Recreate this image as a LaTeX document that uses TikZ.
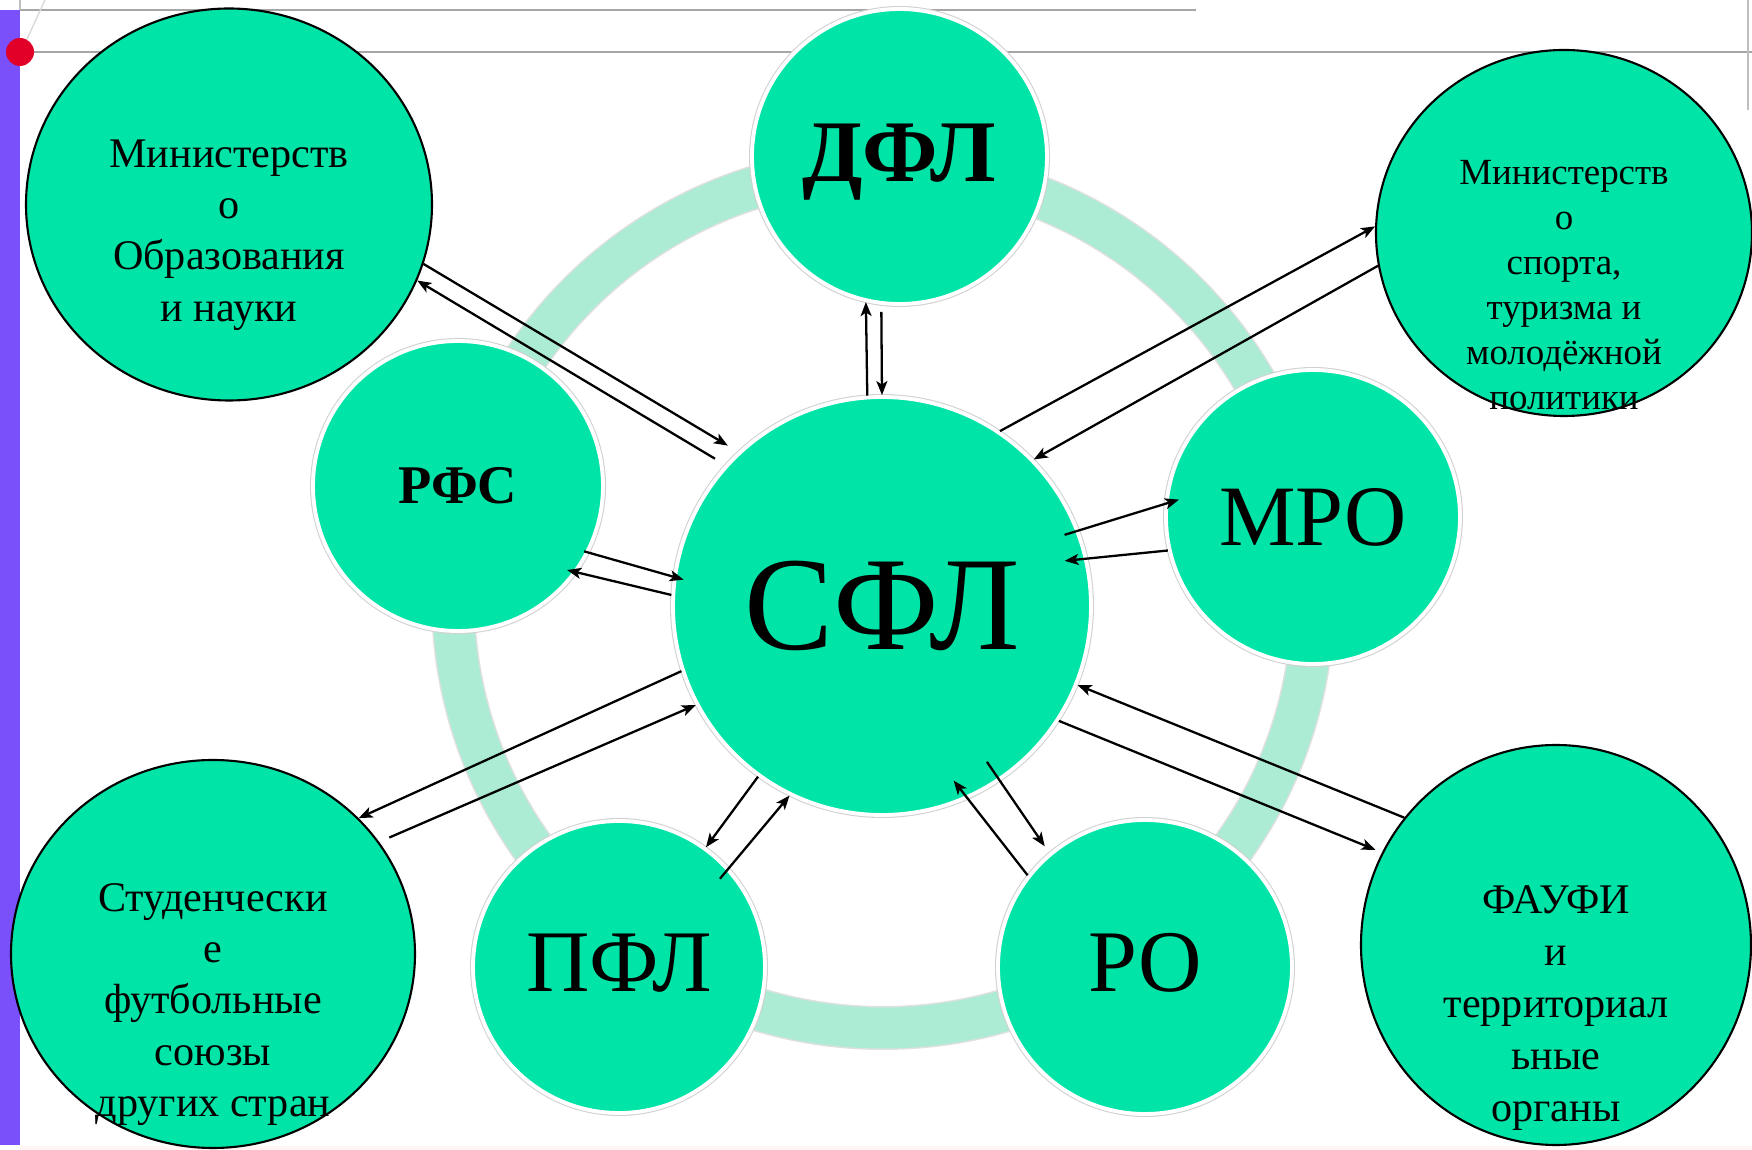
\documentclass[tikz,border=0pt]{standalone}
\usepackage{fontspec}
\setmainfont{Liberation Serif}
\usetikzlibrary{shapes.geometric,arrows.meta,calc}

\definecolor{sea}{RGB}{0,228,168}
\definecolor{mint}{RGB}{172,236,212}
\definecolor{barviolet}{RGB}{122,80,250}
\definecolor{dotred}{RGB}{226,0,40}

\tikzset{
  inner/.style={circle, fill=sea, draw=white, line width=1.1pt, inner sep=0pt,
    preaction={draw=black!18, line width=1.7pt}},
  outer/.style={ellipse, fill=sea, draw=black, line width=0.6pt, inner sep=0pt},
  lbl/.style={align=center, inner sep=0pt, font=\fontsize{12}{14.6}\selectfont},
  arr/.style={-{Stealth[length=1.4mm,width=1.1mm,inset=0.35mm]}, line width=0.65pt},
}

\begin{document}
\begin{tikzpicture}[x=0.1mm, y=0.1mm]
  \useasboundingbox (0,0) rectangle (1752,1150);

  % slide frame
  \fill[barviolet] (0,5) rectangle (20,1140);
  \fill[red!4] (20,0) rectangle (1752,4);
  \draw[gray!70, line width=0.5pt] (20,1140) -- (1196,1140);
  \draw[gray!70, line width=0.5pt] (20,1098) -- (1752,1098);
  \draw[gray!50, line width=0.5pt] (1748,1150) -- (1748,1040);
  \draw[gray!50, line width=0.4pt] (20,1150) -- (20,1140);
  \draw[gray!30, line width=0.4pt] (45,1150) -- (22,1100);
  \fill[dotred] (20,1098) circle (14);

  % background ring
  \draw[black!12, line width=4.4mm] (883,552) circle (430);
  \draw[mint, line width=4.1mm] (883,552) circle (430);

  % outer bodies
  \node[outer, minimum width=40.6mm, minimum height=39.2mm] (min) at (229,945.5) {};
  \node[outer, minimum width=37.6mm, minimum height=36.6mm] (mins) at (1564,917) {};
  \node[outer, minimum width=40.4mm, minimum height=38.8mm] (stud) at (213,196) {};
  \node[outer, minimum width=39mm, minimum height=40mm] (fau) at (1556,205) {};

  % inner circles
  \node[inner, minimum size=29.5mm] (dfl) at (899.5,993.5) {};
  \node[inner, minimum size=29mm] (rfs) at (458,664) {};
  \node[inner, minimum size=41.8mm] (sfl) at (882,544) {};
  \node[inner, minimum size=29.4mm] (mro) at (1313,633) {};
  \node[inner, minimum size=29.2mm] (pfl) at (619,183) {};
  \node[inner, minimum size=29.4mm] (ro) at (1145,183) {};

  % texts
  \node[lbl] (mintxt) at ($(min)+(0,-30.5)$) {Министерств\\о\\Образования\\и науки};
  \node[lbl, font=\fontsize{10.5}{12.8}\selectfont] (minstxt) at ($(mins)+(0,-52)$)
    {Министерств\\о\\ спорта,\\туризма и\\молодёжной\\политики};
  \node[lbl] (studtxt) at ($(stud)+(0,-50.5)$)
    {Студенчески\\е\\футбольные\\союзы\\других стран};
  \node[lbl, font=\fontsize{12}{14.85}\selectfont] (fautxt) at ($(fau)+(0,-63)$)
    {ФАУФИ\\и\\территориал\\ьные\\органы};

  \node[font=\fontsize{38}{38}\selectfont] at (sfl) {СФЛ};
  \node[font=\bfseries\fontsize{25}{25}\selectfont] at ($(dfl)+(0,-6)$) {ДФЛ};
  \node[font=\bfseries\fontsize{15.5}{16}\selectfont] at (rfs) {РФС};
  \node[font=\fontsize{24.5}{25}\selectfont] at (mro) {МРО};
  \node[font=\fontsize{25}{25}\selectfont] at ($(pfl)+(0,4)$) {ПФЛ};
  \node[font=\fontsize{25}{25}\selectfont] at ($(ro)+(0,4)$) {РО};

  % links
  \draw[arr, shorten >=1.2mm] (min.-17) -- (sfl.133);
  \draw[arr, shorten <=1.2mm] (sfl.138) -- (min.-22);
  \draw[arr] (sfl.94) -- (dfl.257);
  \draw[arr, shorten <=0.7mm] (dfl.263.5) -- (sfl.90);
  \draw[arr] (sfl.56) -- (mins.178.5);
  \draw[arr] (mins.190) -- (sfl.44);
  \draw[arr, shorten <=-0.5mm, shorten >=-1.1mm] (rfs.-27) -- (sfl.172);
  \draw[arr, shorten >=-1mm] (sfl.177) -- (rfs.-36);
  \draw[arr, shorten <=-1.5mm, shorten >=-1.5mm] (sfl.21.5) -- (mro.175);
  \draw[arr, shorten >=-2.3mm] (mro.193) -- (sfl.13);
  \draw[arr] (sfl.198) -- (stud.43.6);
  \draw[arr, shorten <=1.1mm] (stud.34.6) -- (sfl.208);
  \draw[arr] (sfl.234.6) -- (pfl.54.6);
  \draw[arr, shorten <=-1.4mm] (pfl.42) -- (sfl.244);
  \draw[arr, shorten <=-2.3mm, shorten >=0.8mm] (sfl.-56) -- (ro.130);
  \draw[arr, shorten >=-2.3mm] (ro.142) -- (sfl.-66);
  \draw[arr, shorten >=0.7mm] (sfl.-33) -- (fau.152);
  \draw[arr] (fau.140) -- (sfl.-22);
\end{tikzpicture}
\end{document}
